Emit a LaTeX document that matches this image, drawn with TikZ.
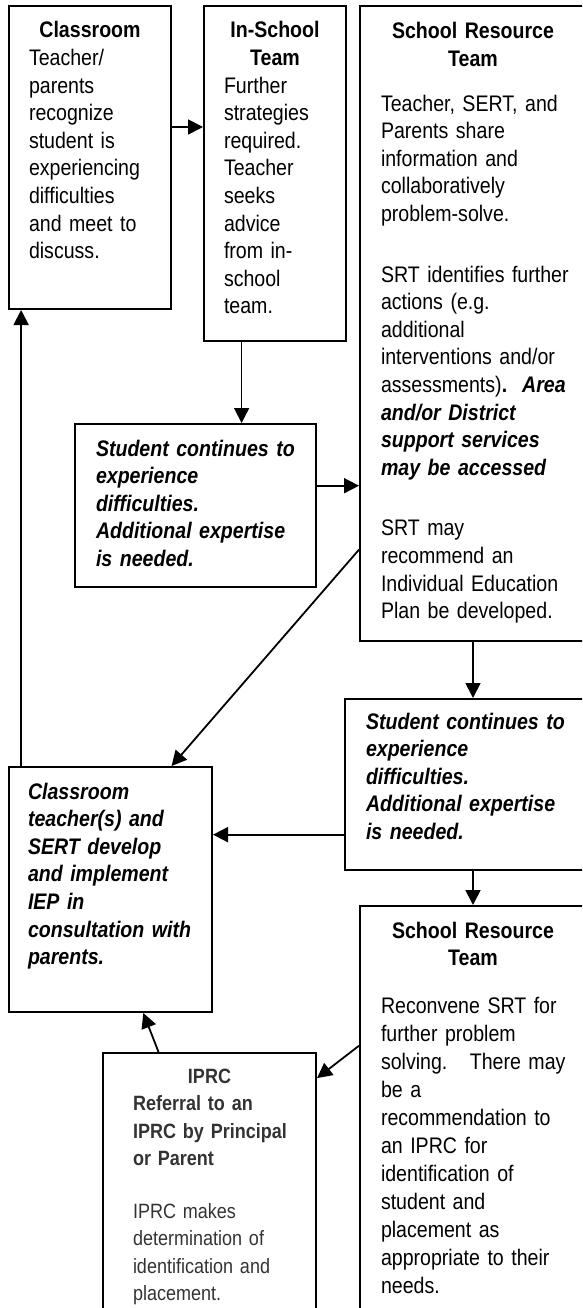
\documentclass[tikz,border=0pt]{standalone}
\usepackage{fontspec}
\setmainfont{Liberation Sans}[FakeStretch=0.87, WordSpace=0.87]
\usetikzlibrary{arrows.meta, calc}
\newcommand{\bodyfont}{\fontsize{22.5}{27.6}\selectfont\frenchspacing\hyphenpenalty=10000\exhyphenpenalty=10000}
\newcommand{\srtfont}{\fontsize{22.5}{28}\selectfont\frenchspacing\hyphenpenalty=10000\exhyphenpenalty=10000}
\newcommand{\iprcfont}{\fontsize{20.7}{27.5}\selectfont\frenchspacing\hyphenpenalty=10000\exhyphenpenalty=10000}

\begin{document}
\begin{tikzpicture}[x=1pt, y=-1pt, every node/.style={font=\bodyfont}]
  % 样式
  \tikzstyle{card}=[rectangle, draw=black, line width=2pt, anchor=north west, align=left, inner ysep=0pt, inner xsep=20pt]
  \tikzstyle{arrow}=[line width=1.8pt, -{Triangle[length=15pt, width=15pt]}]

  \useasboundingbox (0,0) rectangle (582,1308);
  \clip (0,0) rectangle (582,1308);

  % 方框
  \node (cls) [card, text width=122pt, text height=32pt, text depth=271pt] at (8,5)
    {\makebox[122pt]{\bfseries Classroom}\\ Teacher/\\ parents\\ recognize\\ student is\\ experiencing\\ difficulties\\ and meet to\\ discuss.};
  \node (ist) [card, text width=102pt, text height=32pt, text depth=303pt] at (203,5)
    {\makebox[102pt]{\bfseries In-School}\\ \makebox[102pt]{\bfseries Team}\\ Further\\ strategies\\ required.\\ Teacher\\ seeks\\ advice\\ from in-\\ school\\ team.};
  \node (srt1) [card, inner xsep=21pt, text width=199pt, text height=33pt, text depth=602pt] at (359,5)
    {\makebox[184pt]{\bfseries School Resource}\\ \makebox[184pt]{\bfseries Team}\\[17pt]
     Teacher, SERT, and\\ Parents share\\ information and\\ collaboratively\\ problem-solve.\\[33pt]
     SRT identifies further\\ actions (e.g.\\ additional\\ interventions and/or\\
     assessments)\textbf{.}\ \ \textbf{\itshape Area}\\ \textbf{\itshape and/or District}\\
     \textbf{\itshape support services}\\ \textbf{\itshape may be accessed}\\[33pt]
     SRT may\\ recommend an\\ Individual Education\\ Plan be developed.};
  \node (s1) [card, inner xsep=21pt, text width=199pt, text height=32pt, text depth=131pt, font=\bodyfont\bfseries\itshape] at (74,423)
    {Student continues to\\ experience\\ difficulties.\\ Additional expertise\\ is needed.};
  \node (iep) [card, inner xsep=19pt, text width=165pt, text height=32pt, text depth=213pt, font=\bodyfont\bfseries\itshape] at (8,766)
    {Classroom\\ teacher(s) and\\ SERT develop\\ and implement\\ IEP in\\ consultation with\\ parents.};
  \node (s2) [card, inner xsep=21pt, text width=214pt, text height=30pt, text depth=141pt, font=\bodyfont\bfseries\itshape] at (344,698)
    {Student continues to\\ experience\\ difficulties.\\ Additional expertise\\ is needed.};
  \node (srt2) [card, inner xsep=21pt, text width=199pt, text height=32pt, text depth=403pt, font=\srtfont] at (359,905)
    {\makebox[184pt]{\bfseries School Resource}\\[-1pt] \makebox[184pt]{\bfseries Team}\\[20pt]
     Reconvene SRT for\\ further problem\\ solving.\ \ \ There may\\ be a\\ recommendation to\\
     an IPRC for\\ identification of\\ student and\\ placement as\\ appropriate to their\\ needs.};
  \node (iprc) [card, inner xsep=30pt, text width=153pt, text height=30pt, text depth=258pt, font=\iprcfont, text=black!80] at (102,1052)
    {\makebox[153pt]{\bfseries IPRC}\\ \textbf{Referral to an}\\ \mbox{\bfseries IPRC by Principal}\\ \textbf{or Parent}\\[25pt]
     IPRC makes\\ determination of\\ identification and\\ placement.};

  % 连线
  \coordinate (a1) at ($(cls.north east)!0.4!(cls.south east)$);
  \draw[arrow] (a1) -- (a1 -| ist.west);
  \coordinate (a2) at ($(ist.south west)!0.268!(ist.south east)$);
  \draw[arrow] (a2) -- (a2 |- s1.north);
  \coordinate (a3) at ($(s1.north east)!0.38!(s1.south east)$);
  \draw[arrow] (a3) -- (a3 -| srt1.west);
  \coordinate (a4) at ($(srt1.north west)!0.855!(srt1.south west)$);
  \coordinate (b4) at ($(iep.north west)!0.798!(iep.north east)$);
  \draw[arrow] (a4) -- (b4);
  \draw[arrow] (s2.north |- srt1.south) -- (s2.north);
  \coordinate (a6) at ($(s2.north west)!0.79!(s2.south west)$);
  \draw[arrow] (a6) -- (a6 -| iep.east);
  \draw[arrow] (s2.south) -- (s2.south |- srt2.north);
  \coordinate (a8) at ($(srt2.north west)!0.322!(srt2.south west)$);
  \coordinate (b8) at ($(iprc.north east)!0.09!(iprc.south east)$);
  \draw[arrow] (a8) -- (b8);
  \coordinate (a9) at ($(iprc.north west)!0.263!(iprc.north east)$);
  \coordinate (b9) at ($(iep.south west)!0.66!(iep.south east)$);
  \draw[arrow] (a9) -- (b9);
  \coordinate (a10) at ($(iep.north west)!0.064!(iep.north east)$);
  \draw[arrow] (a10) -- (a10 |- cls.south);
\end{tikzpicture}
\end{document}
